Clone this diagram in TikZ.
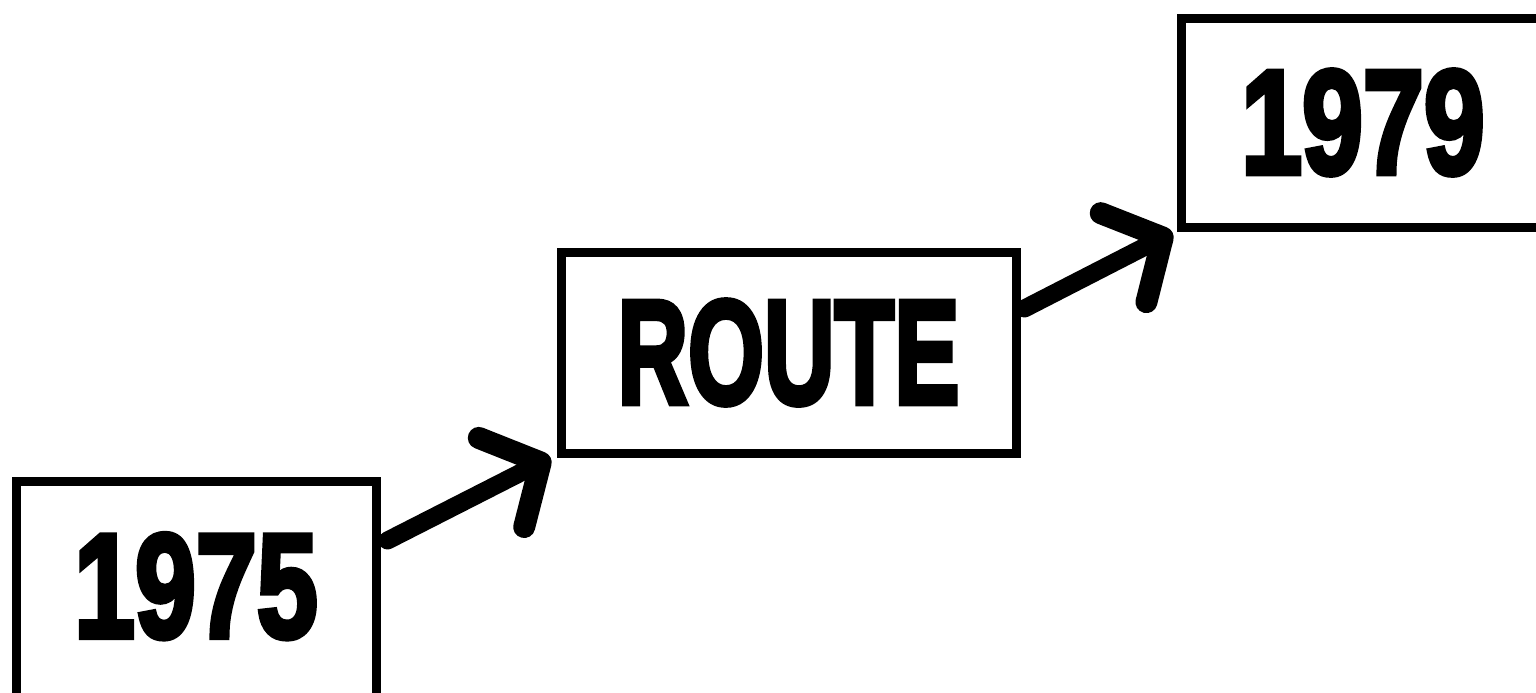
\documentclass[tikz,border=0pt]{standalone}
\usepackage{fontspec}
\usepackage{graphicx}
\newfontfamily\heavyfont[FakeBold=4]{Liberation Sans Bold}
\usetikzlibrary{arrows.meta,calc}
\tikzset{
  yearbox/.style={draw, line width=4.5pt, inner sep=0pt, font=\heavyfont\fontsize{74}{74}\selectfont},
  flow/.style={line width=9pt, line cap=round,
    -{Straight Barb[length=22pt, width=50pt, line width=11pt, round]}},
}
\begin{document}
\begin{tikzpicture}[x=0.5pt, y=-0.5pt]
\useasboundingbox (0,0) rectangle (1536,692);
\node[yearbox, minimum width=180pt, minimum height=109.5pt] (a) at (196,590.5) {\raisebox{5pt}{\scalebox{0.74}[1]{1975}}};
\node[yearbox, minimum width=227.5pt, minimum height=100.5pt] (b) at (788.5,352.5) {\scalebox{0.66}[1]{ROUTE}};
\node[yearbox, minimum width=182pt, minimum height=104.5pt] (c) at (1363,122.5) {\scalebox{0.74}[1]{1979}};
\draw[flow] ($(a.north east)+(7,64)$) -- ($(b.south west)+(-6,0)$);
\draw[flow] ($(b.north east)+(4,61)$) -- ($(c.south west)+(-4,1)$);
\end{tikzpicture}
\end{document}
